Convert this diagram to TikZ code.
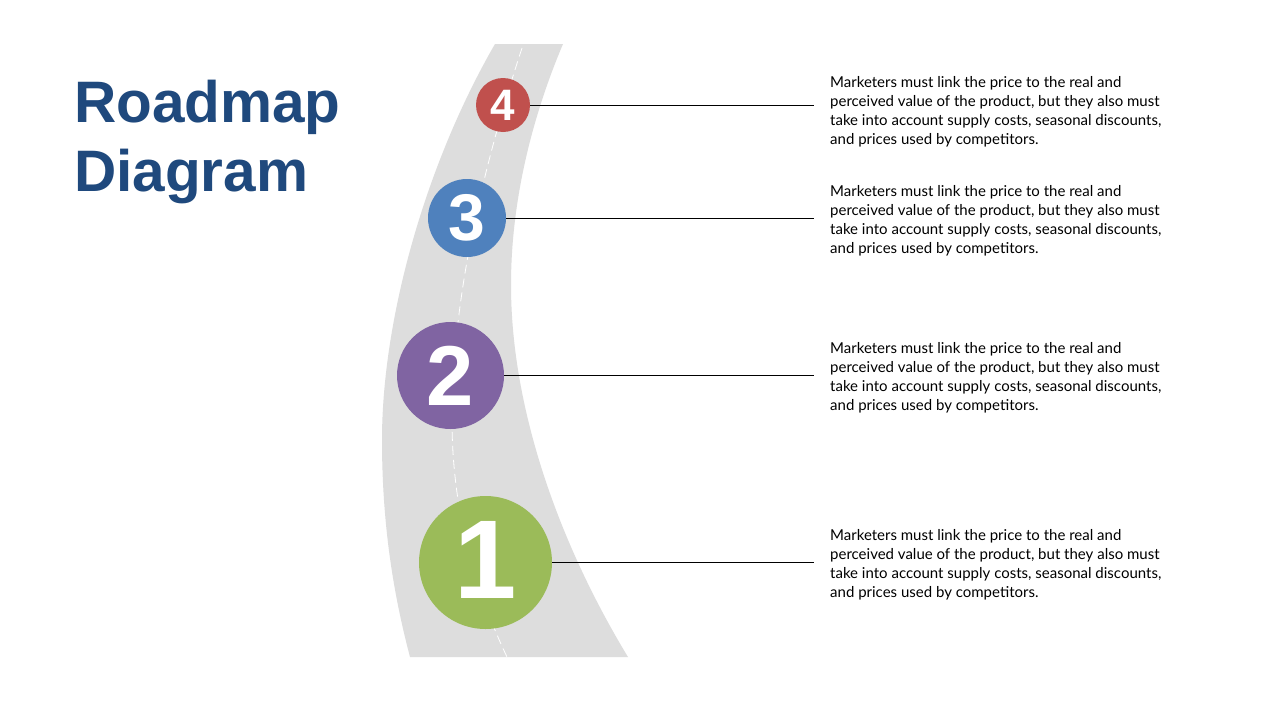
\documentclass[tikz,border=0pt]{standalone}
\usepackage{fontspec}
\setmainfont{Lato}
\newfontfamily\numfont{Liberation Sans}
\definecolor{roadgray}{RGB}{221,221,221}
\definecolor{titleblue}{RGB}{31,73,125}
\definecolor{cred}{RGB}{192,80,77}
\definecolor{cblue}{RGB}{79,129,189}
\definecolor{cpurple}{RGB}{128,100,162}
\definecolor{cgreen}{RGB}{155,187,89}
\begin{document}
\begin{tikzpicture}[x=1pt,y=-1pt,
  stepcircle/.style={circle,inner sep=0pt,text=white,font=\numfont\bfseries},
  desc/.style={anchor=base west,inner sep=0pt,align=left,font=\fontsize{15}{19}\selectfont},
  leader/.style={draw=black,line width=0.8pt}]
\useasboundingbox (0,0) rectangle (1280,720);
\fill[white] (0,0) rectangle (1280,720);
% road
\fill[roadgray] (495,44) .. controls (425,165) and (382,320) .. (382,440)
  .. controls (382,530) and (395,600) .. (410,657) -- (628,657)
  .. controls (560,545) and (511,410) .. (511,285)
  .. controls (511,195) and (535,110) .. (563,44) -- cycle;
\draw[white,line width=0.8pt,dash pattern=on 9pt off 5pt] (522,48) .. controls (482,170) and (452,300) .. (452,420)
  .. controls (452,520) and (480,600) .. (507,657);
% title
\node[anchor=base west,inner sep=0pt,align=left,text=titleblue,font=\numfont\bfseries\fontsize{58.5}{69}\selectfont] (title) at (74,191) {Roadmap\\Diagram};
% circles
\node[stepcircle,fill=cgreen,minimum size=133pt,font=\numfont\bfseries\fontsize{112}{112}\selectfont] (c1) at (485.5,562.5) {\raisebox{5pt}{1}};
\node[stepcircle,fill=cpurple,minimum size=107pt,font=\numfont\bfseries\fontsize{85}{85}\selectfont] (c2) at (450.5,375.5) {2};
\node[stepcircle,fill=cblue,minimum size=78pt,font=\numfont\bfseries\fontsize{66}{66}\selectfont] (c3) at (467,218) {3};
\node[stepcircle,fill=cred,minimum size=54pt,font=\numfont\bfseries\fontsize{44}{44}\selectfont] (c4) at (503,105) {4};
% leader end points
\coordinate (e1) at (814,562.5);
\coordinate (e2) at (814,375.5);
\coordinate (e3) at (814,218);
\coordinate (e4) at (814,105);
\draw[leader] (c1.east) -- (e1);
\draw[leader] (c2.east) -- (e2);
\draw[leader] (c3.east) -- (e3);
\draw[leader] (c4.east) -- (e4);
% descriptions
\node[desc] (t4) at (830,144.5) {Marketers must link the price to the real and\\perceived value of the product, but they also must\\take into account supply costs, seasonal discounts,\\and prices used by competitors.};
\node[desc] (t3) at (830,253) {Marketers must link the price to the real and\\perceived value of the product, but they also must\\take into account supply costs, seasonal discounts,\\and prices used by competitors.};
\node[desc] (t2) at (830,410) {Marketers must link the price to the real and\\perceived value of the product, but they also must\\take into account supply costs, seasonal discounts,\\and prices used by competitors.};
\node[desc] (t1) at (830,597) {Marketers must link the price to the real and\\perceived value of the product, but they also must\\take into account supply costs, seasonal discounts,\\and prices used by competitors.};
\end{tikzpicture}
\end{document}
